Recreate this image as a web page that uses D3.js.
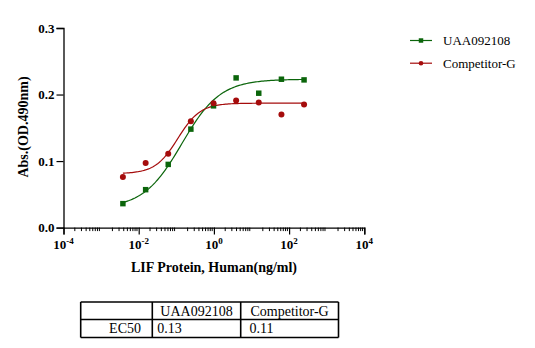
<!DOCTYPE html>
<html><head><meta charset="utf-8">
<script src="https://cdn.jsdelivr.net/npm/d3@7"></script>
<style>body{margin:0;background:#fff}svg{display:block}</style>
</head><body>
<svg id="c" width="535" height="348"></svg>
<script>
// ---- data ----
const concentrations = [0.0038, 0.0153, 0.061, 0.244, 0.977, 3.9, 15.6, 62.5, 250];
const seriesNames = ["UAA092108", "Competitor-G"];
const uaaValues = [0.036, 0.057, 0.095, 0.148, 0.183, 0.225, 0.202, 0.223, 0.222];
const compValues = [0.076, 0.097, 0.111, 0.160, 0.187, 0.191, 0.188, 0.170, 0.185];
// 4-parameter logistic fit: [bottom, top, ec50, hill]
const uaaFit = [0.029, 0.223, 0.14, 0.85];
const compFit = [0.081, 0.187, 0.11, 1.45];
const ec50Values = ["0.13", "0.11"];
const yTicks = [0, 0.1, 0.2, 0.3];
const xDecades = [-4, -2, 0, 2, 4];

const colors = ["#0b650b", "#a50c0c"];
const svg = d3.select("#c");
const serif = "'Liberation Serif','Times New Roman',serif";

const x = d3.scaleLog().domain([1e-4, 1e4]).range([63.5, 364.3]);
const y = d3.scaleLinear().domain([0, 0.3]).range([227.6, 28]);

// axes
const yAxis = svg.append("g").attr("transform", "translate(63.5,0)")
  .call(d3.axisLeft(y).tickValues(yTicks).tickFormat(d3.format(".1f")).tickSize(7).tickPadding(2));
const minor = [];
for (let e = -4; e < 4; e++) for (let k = 2; k <= 9; k++) minor.push(k * Math.pow(10, e));
const xg = svg.append("g").attr("transform", "translate(0,227.6)");
xg.call(d3.axisBottom(x).tickValues(xDecades.map(d => Math.pow(10, d))).tickFormat("").tickSize(7));
xg.append("g").selectAll("line").data(minor).join("line")
  .attr("x1", d => x(d)).attr("x2", d => x(d)).attr("y1", 0).attr("y2", 3.5)
  .attr("stroke", "#000").attr("stroke-width", 1);
svg.selectAll(".domain").attr("stroke", "#000").attr("stroke-width", 1.3);
svg.selectAll(".tick line").attr("stroke", "#000").attr("stroke-width", 1.2);
yAxis.selectAll("text").attr("font-family", serif).attr("font-weight", "bold")
  .attr("font-size", 13).attr("fill", "#000");

// x tick labels with superscripts
const xl = svg.append("g");
xDecades.forEach(e => {
  const t = xl.append("text").attr("x", x(Math.pow(10, e))).attr("y", 248.5)
    .attr("text-anchor", "middle").attr("font-family", serif).attr("font-weight", "bold")
    .attr("font-size", 13);
  t.append("tspan").text("10");
  t.append("tspan").attr("dy", -5).attr("font-size", 9).text(String(e));
});

// axis titles
svg.append("text").attr("x", 214).attr("y", 272).attr("text-anchor", "middle")
  .attr("font-family", serif).attr("font-weight", "bold").attr("font-size", 14)
  .text("LIF Protein, Human(ng/ml)");
svg.append("text").attr("transform", "translate(28,127) rotate(-90)").attr("text-anchor", "middle")
  .attr("font-family", serif).attr("font-weight", "bold").attr("font-size", 14)
  .text("Abs.(OD.490nm)");

// fitted curves
function fourPL(p, c) { return p[0] + (p[1] - p[0]) / (1 + Math.pow(p[2] / c, p[3])); }
const lx = d3.scaleLinear().domain([0, 120]).range([Math.log10(concentrations[0]), Math.log10(concentrations[concentrations.length - 1])]);
const grid = d3.range(121).map(i => Math.pow(10, lx(i)));
const line = d3.line().x(d => x(d[0])).y(d => y(d[1]));
[uaaFit, compFit].forEach((p, i) => {
  svg.append("path").attr("d", line(grid.map(c => [c, fourPL(p, c)])))
    .attr("fill", "none").attr("stroke", colors[i]).attr("stroke-width", 1.2);
});

// points
const sq = d3.symbol().type(d3.symbolSquare).size(30);
svg.append("g").selectAll("path").data(concentrations.map((c, i) => [c, uaaValues[i]])).join("path")
  .attr("d", sq).attr("transform", d => `translate(${x(d[0])},${y(d[1])})`).attr("fill", colors[0]);
svg.append("g").selectAll("circle").data(concentrations.map((c, i) => [c, compValues[i]])).join("circle")
  .attr("cx", d => x(d[0])).attr("cy", d => y(d[1])).attr("r", 3).attr("fill", colors[1]);

// legend
seriesNames.forEach((n, i) => {
  const ly = 40.5 + i * 22.7;
  const g = svg.append("g");
  g.append("line").attr("x1", 410).attr("x2", 432).attr("y1", ly).attr("y2", ly)
    .attr("stroke", colors[i]).attr("stroke-width", 1.2);
  if (i === 0) g.append("path").attr("d", d3.symbol().type(d3.symbolSquare).size(20)()).attr("transform", `translate(421,${ly})`).attr("fill", colors[i]);
  else g.append("circle").attr("cx", 421).attr("cy", ly).attr("r", 2.3).attr("fill", colors[i]);
  g.append("text").attr("x", 443).attr("y", ly + 4.5).attr("font-family", serif).attr("font-size", 13).text(n);
});

// EC50 table
const colX = [80.7, 152.3, 240.7, 338.5];
const rowY = [302, 319.5, 337.5];
const tg = svg.append("g");
colX.forEach(cx => tg.append("line").attr("x1", cx).attr("x2", cx).attr("y1", rowY[0]).attr("y2", rowY[2]).attr("stroke", "#000").attr("stroke-width", 1.6));
rowY.forEach(ry => tg.append("line").attr("x1", colX[0]).attr("x2", colX[3]).attr("y1", ry).attr("y2", ry).attr("stroke", "#000").attr("stroke-width", 1.6));
seriesNames.forEach((n, i) => {
  tg.append("text").attr("x", (colX[i + 1] + colX[i + 2]) / 2).attr("y", 315.5).attr("text-anchor", "middle")
    .attr("font-family", serif).attr("font-size", 14).text(n);
});
tg.append("text").attr("x", 141).attr("y", 333.3).attr("text-anchor", "end")
  .attr("font-family", serif).attr("font-size", 14).text("EC50");
ec50Values.forEach((v, i) => {
  tg.append("text").attr("x", [157.3, 249.5][i]).attr("y", 333.3)
    .attr("font-family", serif).attr("font-size", 14).text(v);
});
</script>
</body></html>
